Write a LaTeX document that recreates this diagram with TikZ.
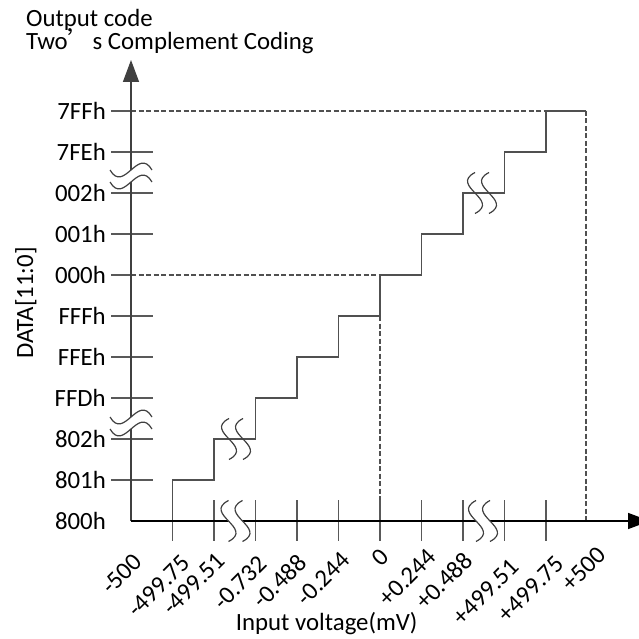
\documentclass[tikz,border=0pt]{standalone}
\usepackage{fontspec}
\setmainfont{Carlito}
\newfontfamily\cjk{Noto Sans CJK SC}
\usetikzlibrary{arrows.meta}
\definecolor{axisc}{HTML}{404040}
\definecolor{tickc}{HTML}{595959}
\definecolor{stepc}{HTML}{505050}
\tikzset{
  axisline/.style={draw=axisc, line width=1.4pt},
  tickline/.style={draw=tickc, line width=1.3pt},
  stepline/.style={draw=stepc, line width=1.4pt},
  dashline/.style={draw=stepc, line width=1.4pt, dash pattern=on 5pt off 2.5pt},
  brk/.style={draw=axisc, line width=1.2pt},
  lbl/.style={inner sep=0pt, font=\fontsize{24.8}{28}\selectfont, text=black},
  xlbl/.style={lbl, rotate=45, anchor=north east},
  ylbl/.style={lbl, anchor=east}
}
% horizontal wave break (for vertical axis), centre #1,#2, masked
\newcommand\ywavebreak[2]{%
  \fill[white] (#1-21,#2-6) .. controls (#1-7,#2+18) and (#1+7,#2-30) .. (#1+21,#2-6)
     -- (#1+21,#2+6) .. controls (#1+7,#2-18) and (#1-7,#2+30) .. (#1-21,#2+6) -- cycle;
  \draw[brk] (#1-21,#2-6) .. controls (#1-7,#2+18) and (#1+7,#2-30) .. (#1+21,#2-6);
  \draw[brk] (#1-21,#2+6) .. controls (#1-7,#2+30) and (#1+7,#2-18) .. (#1+21,#2+6);
}
% vertical S break, centre #1,#2; #3 = mask colour (white or none)
\newcommand\xsbreak[3]{%
  \path[fill=#3] (#1-7,#2-20.5) .. controls (#1-33,#2-7) and (#1+19,#2+7) .. (#1-7,#2+20.5)
     -- (#1+7,#2+20.5) .. controls (#1+33,#2+7) and (#1-19,#2-7) .. (#1+7,#2-20.5) -- cycle;
  \draw[brk] (#1-7,#2-20.5) .. controls (#1-33,#2-7) and (#1+19,#2+7) .. (#1-7,#2+20.5);
  \draw[brk] (#1+7,#2-20.5) .. controls (#1-19,#2-7) and (#1+33,#2+7) .. (#1+7,#2+20.5);
}
\begin{document}
\begin{tikzpicture}[x=1pt,y=-1pt]
\useasboundingbox (0,0) rectangle (638,639);

% dashed guide lines
\draw[dashline] (131,111) -- (546,111);
\draw[dashline] (131,275) -- (380,275);
\draw[dashline] (380,316) -- (380,521);
\draw[dashline] (586,111) -- (586,521);

% y ticks
\foreach \yy in {152,193,234,316,357,398,439,480}
  \draw[tickline] (111,\yy) -- (153,\yy);
\draw[tickline] (111,111) -- (131,111);
\draw[tickline] (111,275) -- (131,275);

% x ticks
\foreach \xx in {172.5,214,255.5,297,338.5,380,421.5,463,504.5,546}
  \draw[tickline] (\xx,500) -- (\xx,541);

% staircase
\draw[stepline] (172.5,521) -- (172.5,480) -- (214,480) -- (214,439) -- (255.5,439)
  -- (255.5,398) -- (297,398) -- (297,357) -- (338.5,357) -- (338.5,316) -- (380,316)
  -- (380,275) -- (421.5,275) -- (421.5,234) -- (463,234) -- (463,193) -- (504.5,193)
  -- (504.5,152) -- (546,152) -- (546,111) -- (586,111);

% axes
\coordinate (O) at (131,521);
\coordinate (Ytip) at (131,60);
\coordinate (Xtip) at (650,521);
\draw[axisline, -{Triangle[length=22pt,width=16pt]}] (O) -- (Ytip);
\draw[draw=black, line width=1.4pt, -{Triangle[length=22pt,width=16pt]}] (O) -- (Xtip);

% breaks
\ywavebreak{131}{176}
\ywavebreak{131}{423}
\xsbreak{235.5}{521}{white}
\xsbreak{483}{521}{white}
\xsbreak{236}{439}{none}
\xsbreak{482}{193}{none}

% titles
\node[lbl, anchor=base west] (t1) at (26,27) {Output code};
\node[lbl, anchor=base west] (t2) at (26,50) {Two{\cjk ’}s Complement Coding};
\node[lbl, rotate=90, anchor=base] (yl) at (33,303) {DATA[11:0]};
\node[lbl, anchor=base] (xl) at (326.7,630) {Input voltage(mV)};

% y labels
\node[ylbl] (l7ff) at (106,111) {7FFh};
\node[ylbl] (l7fe) at (106,152) {7FEh};
\node[ylbl] (l002) at (106,193) {002h};
\node[ylbl] (l001) at (106,234) {001h};
\node[ylbl] (l000) at (106,275) {000h};
\node[ylbl] (lfff) at (106,316) {FFFh};
\node[ylbl] (lffe) at (106,357) {FFEh};
\node[ylbl] (lffd) at (106,398) {FFDh};
\node[ylbl] (l802) at (106,439) {802h};
\node[ylbl] (l801) at (106,480) {801h};
\node[ylbl] (l800) at (106,521) {800h};

% x labels
\node[xlbl] (x1) at (132,552) {-500};
\node[xlbl] (x2) at (180,553) {-499.75};
\node[xlbl] (x3) at (215,551) {-499.51};
\node[xlbl] (x4) at (257,554) {-0.732};
\node[xlbl] (x5) at (296,552) {-0.488};
\node[xlbl] (x6) at (340,550) {-0.244};
\node[xlbl] (x7) at (379,547) {0};
\node[xlbl] (x8) at (426,547) {+0.244};
\node[xlbl] (x9) at (462,550) {+0.488};
\node[xlbl] (x10) at (509,557) {+499.51};
\node[xlbl] (x11) at (554,554) {+499.75};
\node[xlbl] (x12) at (596,545) {+500};
\end{tikzpicture}
\end{document}
